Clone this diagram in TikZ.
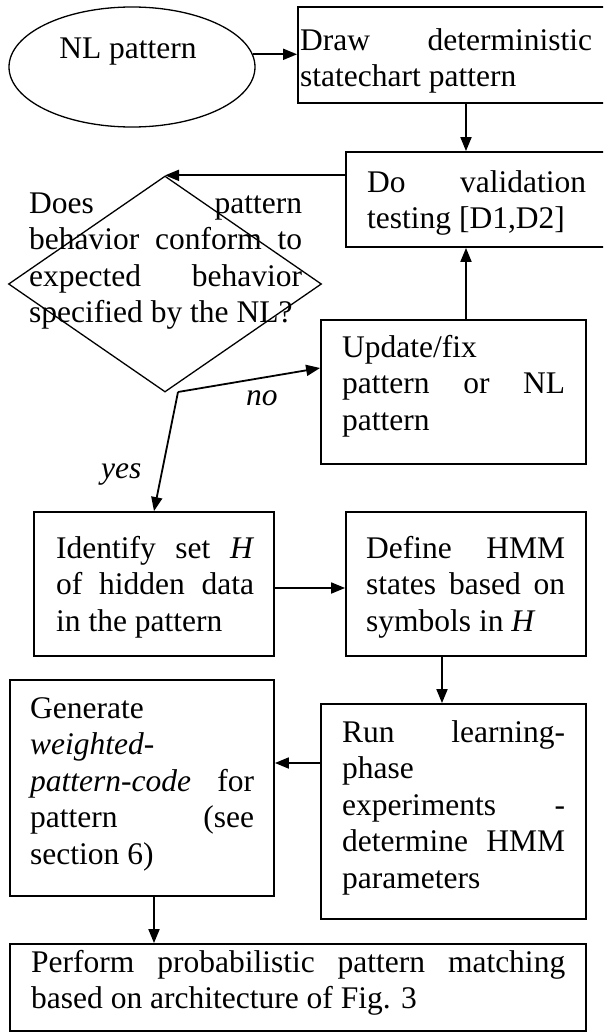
\documentclass[tikz,border=0pt]{standalone}
\usepackage{fontspec}
\setmainfont{Liberation Serif}
\usetikzlibrary{shapes.geometric,arrows.meta,calc}
\newcommand\jline[1]{\makebox[\linewidth][s]{#1}}
\begin{document}
\begin{tikzpicture}[x=1pt,y=-1pt,
  every node/.style={font=\fontsize{31.5pt}{36.5pt}\selectfont},
  box/.style={draw, rectangle, line width=1.8pt, inner sep=0pt},
  txt/.style={inner sep=0pt, anchor=base west},
  lbl/.style={inner sep=0pt, anchor=base west, font=\fontsize{31.5pt}{36.5pt}\selectfont\itshape},
  arr/.style={line width=1.8pt, -{Triangle[length=14pt,width=11pt]}}]
\useasboundingbox (0,0) rectangle (603,1036);
\clip (0,0) rectangle (603,1036);
% shapes
\node[draw, ellipse, line width=1.3pt, minimum width=246pt, minimum height=120pt, inner sep=0pt] (nl) at (132,67) {};
\node[box, minimum width=312pt, minimum height=96pt] (draw) at (454,55) {};
\node[box, minimum width=264pt, minimum height=95pt] (val) at (478,199.5) {};
\node[draw, diamond, line width=1.3pt, minimum width=313pt, minimum height=216pt, inner sep=0pt] (dia) at (165,284) {};
\node[box, minimum width=265pt, minimum height=144pt] (upd) at (453.5,392) {};
\node[box, minimum width=240pt, minimum height=144pt] (idf) at (154,584) {};
\node[box, minimum width=240pt, minimum height=144pt] (def) at (466,584) {};
\node[box, minimum width=264pt, minimum height=216pt] (gen) at (142,788) {};
\node[box, minimum width=265pt, minimum height=215pt] (run) at (453.5,811.5) {};
\node[box, minimum width=576pt, minimum height=87pt] (perf) at (298,987.5) {};
% texts
\node[anchor=base, inner sep=0pt] (tnl) at (128,58) {NL pattern};
\node[txt] (tdraw) at (300,50) {\parbox[t]{292pt}{\jline{Draw deterministic}\\statechart pattern}};
\node[txt] (tval) at (367,192) {\parbox[t]{219pt}{\jline{Do validation}\\testing [D1,D2]}};
\node[txt] (tdia) at (29,213) {\parbox[t]{273pt}{\jline{Does pattern}\\\jline{behavior conform to}\\\jline{expected behavior}\\specified by the NL?}};
\node[txt] (tupd) at (342,357) {\parbox[t]{223pt}{Update/fix\\\jline{pattern or NL}\\pattern}};
\node[txt] (tidf) at (56,558) {\parbox[t]{198pt}{\jline{Identify set \textit{H}}\\\jline{of hidden data}\\in the pattern}};
\node[txt] (tdef) at (366,558) {\parbox[t]{199pt}{\jline{Define HMM}\\\jline{states based on}\\symbols in \textit{H}}};
\node[txt] (tgen) at (30,718) {\parbox[t]{224pt}{Generate\\\textit{weighted-}\\\jline{\textit{pattern-code} for}\\\jline{pattern (see}\\section 6)}};
\node[txt] (trun) at (342,742) {\parbox[t]{223pt}{\jline{Run learning-}\\phase\\\jline{experiments -}\\\jline{determine HMM}\\parameters}};
\node[txt] (tperf) at (31,972) {\parbox[t]{534pt}{\jline{Perform probabilistic pattern matching}\\based on architecture of Fig. 3}};
\node[lbl] (no) at (246,405) {no};
\node[lbl] (yes) at (101,478) {yes};
% helper coordinates
\coordinate (colA) at (466,0);
\coordinate (colB) at (442,0);
\coordinate (rowR) at (0,763);
\coordinate (br) at (178,392);
% connectors
\draw[arr] (nl.6) -- (nl.6 -| draw.west);
\draw[arr] (draw.south -| colA) -- (val.north -| colA);
\draw[arr] (val.west |- dia.north) -- (dia.north);
\draw[arr] (upd.north -| colA) -- (val.south -| colA);
\draw[arr] (br) -- ($(upd.west)+(0,-24)$);
\draw[arr] (br) -- (idf.north);
\draw[arr] ($(idf.east)+(0,4)$) -- ($(def.west)+(0,4)$);
\draw[arr] (def.south -| colB) -- (run.north -| colB);
\draw[arr] (run.west |- rowR) -- (gen.east |- rowR);
\draw[arr] (gen.south -| idf.north) -- (perf.north -| idf.north);
\end{tikzpicture}
\end{document}
